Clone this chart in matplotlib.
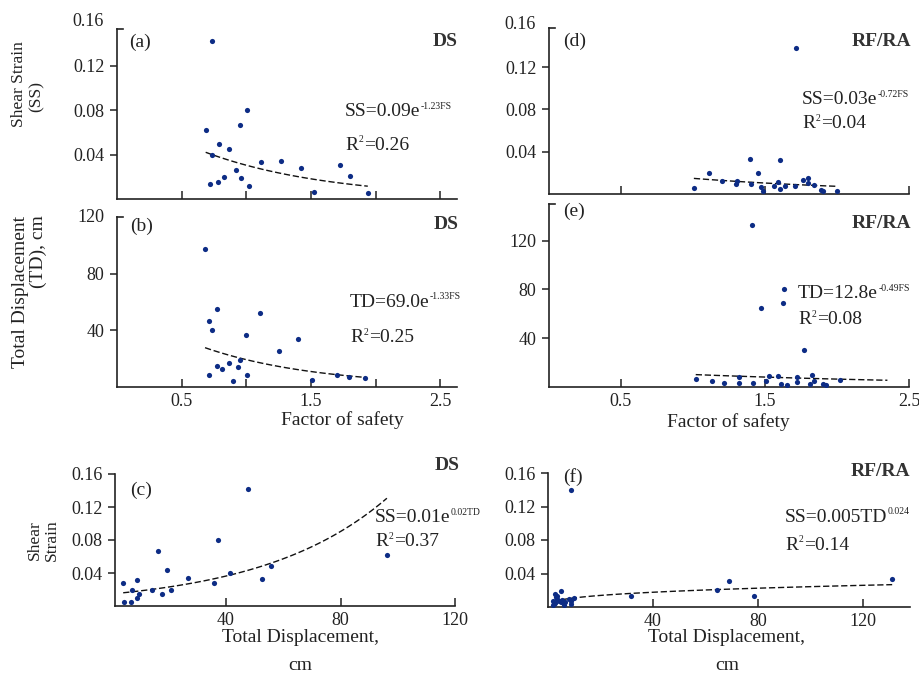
import numpy as np
import matplotlib.pyplot as plt
import matplotlib.transforms as mtransforms
from matplotlib.text import Annotation

plt.rcParams['font.family'] = ['Liberation Serif', 'DejaVu Serif']

W, H = 919, 675
DOT = '#0d2c85'
INK = '#222222'

# ---- DS ----
ds_fs_a = [0.735, 0.686, 0.733, 0.787, 0.867, 0.955, 1.009, 0.919, 0.960, 0.722,
           0.784, 0.828, 1.019, 1.115, 1.267, 1.420, 1.523, 1.722, 1.800, 1.940]
ds_ss_a = [0.142, 0.062, 0.040, 0.0497, 0.0449, 0.067, 0.080, 0.0265, 0.019, 0.0135,
           0.0156, 0.0196, 0.012, 0.033, 0.034, 0.0277, 0.006, 0.031, 0.0208, 0.0057]

ds_fs_b = [0.681, 0.771, 0.714, 0.733, 1.105, 0.996, 1.399, 1.252, 0.952, 0.864,
           0.771, 0.815, 0.939, 0.709, 1.009, 0.900, 1.505, 1.704, 1.792, 1.921]
ds_td_b = [97.5, 55.3, 46.9, 40.0, 52.1, 36.5, 34.1, 25.2, 19.3, 17.2,
           15.1, 12.9, 14.4, 8.5, 8.5, 4.5, 4.9, 8.5, 6.8, 6.4]

ds_td_c = [4.06, 4.17, 6.96, 7.07, 8.81, 9.04, 9.74, 14.15, 16.35, 17.5,
           19.24, 20.87, 26.55, 35.7, 37.2, 41.4, 47.8, 52.4, 55.65, 96.2]
ds_ss_c = [0.0275, 0.0045, 0.0052, 0.0194, 0.0311, 0.0093, 0.0149, 0.0194, 0.0667, 0.0145,
           0.0432, 0.0194, 0.0339, 0.0275, 0.080, 0.0404, 0.1418, 0.0323, 0.0485, 0.0614]

# ---- RF/RA ----
rf_fs_d = [1.712, 1.394, 1.603, 1.114, 1.452, 1.006, 1.203, 1.305, 1.298, 1.406, 1.472, 1.486,
           1.562, 1.590, 1.601, 1.636, 1.707, 1.762, 1.801, 1.801, 1.838, 1.888, 1.900, 1.999]
rf_ss_d = [0.1378, 0.0328, 0.0319, 0.0196, 0.0196, 0.0057, 0.0126, 0.0123, 0.0092, 0.0092, 0.0063, 0.0031,
           0.0076, 0.0114, 0.0044, 0.0073, 0.0073, 0.0132, 0.0154, 0.0107, 0.0082, 0.0041, 0.0026, 0.0026]

rf_fs_e = [1.410, 1.631, 1.624, 1.475, 1.769, 1.019, 1.130, 1.215, 1.319, 1.319, 1.417, 1.505,
           1.525, 1.590, 1.608, 1.652, 1.721, 1.721, 1.812, 1.826, 1.838, 1.900, 1.921, 2.024]
rf_td_e = [133.1, 80.5, 69.0, 64.9, 30.7, 6.6, 4.9, 3.3, 8.0, 3.0, 3.3, 4.9,
           8.8, 8.8, 2.7, 1.9, 8.5, 4.1, 2.7, 9.9, 5.2, 2.2, 1.9, 6.0]

rf_td_f = [8.6, 31.6, 64.4, 69.0, 78.7, 131.2, 6.6, 4.9, 3.3, 8.0, 3.0, 3.3,
           4.9, 8.8, 8.8, 2.7, 1.9, 4.1, 2.7, 9.9, 5.2, 2.2, 1.9, 6.0]
rf_ss_f = [0.140, 0.0128, 0.0199, 0.0307, 0.0131, 0.0334, 0.0057, 0.0196, 0.0126, 0.0092, 0.0123, 0.0092,
           0.0063, 0.0031, 0.0076, 0.0044, 0.0073, 0.0073, 0.0154, 0.0107, 0.0082, 0.0041, 0.0026, 0.0026]

fig = plt.figure(figsize=(W / 100, H / 100), dpi=100)


def px_axes(l, t, r, b):
    return fig.add_axes([l / W, 1 - b / H, (r - l) / W, (b - t) / H])


def ftext(x, y, s, **kw):
    kw.setdefault('color', INK)
    return fig.text(x / W, 1 - y / H, s, **kw)


def exp_fit(x, y, x0, x1):
    k, c = np.polyfit(x, np.log(y), 1)
    xx = np.linspace(x0, x1, 100)
    return xx, np.exp(c) * np.exp(k * xx)


def pow_fit(x, y, x0, x1):
    k, c = np.polyfit(np.log(x), np.log(y), 1)
    xx = np.linspace(x0, x1, 100)
    return xx, np.exp(c) * xx ** k


def setup(ax, xlim, ylim, xticks, xlabels, yticks, ylabels, top_label=None, corner=True):
    ax.set_xlim(*xlim)
    ax.set_ylim(*ylim)
    for s in ('top', 'right'):
        ax.spines[s].set_visible(False)
    for s in ('left', 'bottom'):
        ax.spines[s].set_color(INK)
        ax.spines[s].set_linewidth(1.2)
    ax.set_xticks(xticks)
    ax.set_xticklabels(xlabels)
    ax.set_yticks(yticks)
    ax.set_yticklabels(ylabels)
    ax.tick_params(axis='x', direction='in', length=6, width=1.1, pad=4,
                   labelsize=13, colors=INK)
    ax.tick_params(axis='y', direction='out', length=5, width=1.1, pad=4,
                   labelsize=13, colors=INK)
    if corner:
        ax.plot([0, 0.018], [1, 1], transform=ax.transAxes, color=INK,
                lw=1.2, clip_on=False)
    if top_label is not None:
        val, txt = top_label
        tr = mtransforms.offset_copy(
            mtransforms.blended_transform_factory(ax.transAxes, ax.transData),
            fig=fig, x=-13, y=0, units='dots')
        ax.text(0, val, txt, transform=tr, ha='right', va='center',
                fontsize=13, color=INK, clip_on=False)


def scatter(ax, x, y, fit):
    ax.plot(*fit, color='#111111', lw=1.0, dashes=(4.5, 2))
    ax.scatter(x, y, s=14, color=DOT, zorder=3, linewidths=0)


def sup_text(x, y, base, sup, tail='', fs=14, sfs=7):
    # base text with a small raised exponent, then an optional tail on the base line
    t = ftext(x, y, base, fontsize=fs, va='center', ha='left')
    s = Annotation(sup, xy=(1, 0.84), xycoords=t, xytext=(0.3, 0),
                   textcoords='offset points', fontsize=sfs, va='center', ha='left', color=INK)
    fig.add_artist(s)
    if tail:
        r = Annotation(tail, xy=(1, 0), xycoords=(s, t), xytext=(0.3, 0),
                       textcoords='offset points', fontsize=fs, va='bottom', ha='left',
                       color=INK)
        fig.add_artist(r)


fs_ticks = [0.5, 1.0, 1.5, 2.0, 2.5]
fs_labels = ['0.5', '', '1.5', '', '2.5']

# (a) DS, shear strain vs factor of safety
ax = px_axes(117, 29, 457, 199)
setup(ax, (0, 2.63), (0, 0.153), fs_ticks, [''] * 5,
      [0.04, 0.08, 0.12], ['0.04', '0.08', '0.12'], top_label=(0.16, '0.16'))
scatter(ax, ds_fs_a, ds_ss_a, exp_fit(ds_fs_a, ds_ss_a, min(ds_fs_a), max(ds_fs_a)))

# (b) DS, total displacement vs factor of safety
ax = px_axes(117, 217, 457, 387)
setup(ax, (0, 2.63), (0, 120), fs_ticks, fs_labels,
      [40, 80], ['40', '80'], top_label=(120, '120'))
scatter(ax, ds_fs_b, ds_td_b, exp_fit(ds_fs_b, ds_td_b, min(ds_fs_b), max(ds_fs_b)))

# (c) DS, shear strain vs total displacement
ax = px_axes(115, 474, 455, 606)
setup(ax, (1.2, 120), (0, 0.16), [40, 80, 120], ['40', '80', '120'],
      [0.04, 0.08, 0.12, 0.16], ['0.04', '0.08', '0.12', '0.16'], corner=False)
scatter(ax, ds_td_c, ds_ss_c, exp_fit(ds_td_c, ds_ss_c, min(ds_td_c), max(ds_td_c)))

# (d) RF/RA, shear strain vs factor of safety
ax = px_axes(549, 28, 909, 194)
setup(ax, (0, 2.5), (0, 0.157), [0.5, 1.5, 2.5], [''] * 3,
      [0.04, 0.08, 0.12], ['0.04', '0.08', '0.12'], top_label=(0.16, '0.16'))
scatter(ax, rf_fs_d, rf_ss_d, exp_fit(rf_fs_d, rf_ss_d, min(rf_fs_d), max(rf_fs_d)))

# (e) RF/RA, total displacement vs factor of safety
ax = px_axes(549, 204, 909, 387)
setup(ax, (0, 2.5), (0, 150), [0.5, 1.5, 2.5], ['0.5', '1.5', '2.5'],
      [40, 80, 120], ['40', '80', '120'])
scatter(ax, rf_fs_e, rf_td_e, exp_fit(rf_fs_e, rf_td_e, min(rf_fs_e), 2.35))

# (f) RF/RA, shear strain vs total displacement
ax = px_axes(548, 473, 910, 607)
setup(ax, (0, 138), (0, 0.16), [40, 80, 120], ['40', '80', '120'],
      [0.04, 0.08, 0.12, 0.16], ['0.04', '0.08', '0.12', '0.16'], corner=False)
scatter(ax, rf_td_f, rf_ss_f, pow_fit(rf_td_f, rf_ss_f, min(rf_td_f), max(rf_td_f)))

# panel letters and groups
for x, y, s in [(129, 42, '(a)'), (130, 226, '(b)'), (130, 490, '(c)'),
                (563, 41, '(d)'), (563, 211, '(e)'), (563, 477, '(f)')]:
    ftext(x, y, s, fontsize=14, va='center', ha='left')
for x, y, s in [(458, 42, 'DS'), (459, 225, 'DS'), (460, 465, 'DS'),
                (911, 42, 'RF/RA'), (911, 223, 'RF/RA'), (910, 472, 'RF/RA')]:
    ftext(x, y, s, fontsize=14, fontweight='bold', va='center', ha='right', color='#333333')

# regression equations
eqs = [(345, 112, 145, 'SS=0.09e', '-1.23FS', '0.26'),
       (350, 302, 338, 'TD=69.0e', '-1.33FS', '0.25'),
       (375, 518, 542, 'SS=0.01e', '0.02TD', '0.37'),
       (802, 100, 124, 'SS=0.03e', '-0.72FS', '0.04'),
       (798, 294, 320, 'TD=12.8e', '-0.49FS', '0.08'),
       (785, 517, 545, 'SS=0.005TD', '0.024', '0.14')]
for x, y1, y2, base, sup, r2 in eqs:
    sup_text(x, y1, base, sup)
    sup_text(x, y2, 'R', '2', '=' + r2)

# axis titles
ftext(19, 84, 'Shear Strain', rotation=90, fontsize=12.5, va='center', ha='center')
ftext(37, 96, '(SS)', rotation=90, fontsize=12.5, va='center', ha='center')
ftext(21, 292, 'Total Displacement', rotation=90, fontsize=14, va='center', ha='center')
ftext(38, 252, '(TD), cm', rotation=90, fontsize=14, va='center', ha='center')
ftext(35, 540, 'Shear', rotation=90, fontsize=12.5, va='center', ha='center')
ftext(52, 540, 'Strain', rotation=90, fontsize=12.5, va='center', ha='center')
ftext(342, 420, 'Factor of safety', fontsize=14, va='center', ha='center')
ftext(728, 422, 'Factor of safety', fontsize=14, va='center', ha='center')
for xc in (300, 727):
    ftext(xc, 637, 'Total Displacement,', fontsize=14, va='center', ha='center')
    ftext(xc, 665, 'cm', fontsize=14, va='center', ha='center')

fig.savefig('out.png', dpi=100)
